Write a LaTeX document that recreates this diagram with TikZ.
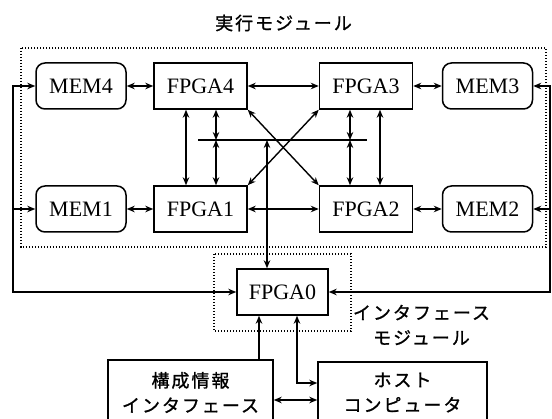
\documentclass[tikz,border=0pt]{standalone}
\usepackage{fontspec}
\setmainfont{Liberation Serif}
\newfontfamily\jp{Noto Sans CJK JP}[LetterSpace=11,FakeBold=1.2]
\usetikzlibrary{arrows.meta,calc}
\begin{document}
\begin{tikzpicture}[x=1pt,y=-1pt,
  box/.style={draw,line width=1.5pt,minimum width=93pt,minimum height=46pt,inner sep=0pt,font=\fontsize{22}{24}\selectfont},
  membox/.style={box,minimum width=90pt,rounded corners=9pt},
  conn/.style={line width=1.4pt},
  tip/.tip={Stealth[length=8pt,width=6.5pt]},
  bi/.style={conn,tip-tip},
  uni/.style={conn,-tip},
  dotbox/.style={line width=1.3pt,dash pattern=on 1.4pt off 1.6pt},
  jtext/.style={font=\jp\fontsize{18}{25}\selectfont,align=center,inner sep=0pt},
  jbox/.style={draw,line width=1.5pt,jtext}
]
\useasboundingbox (0,0) rectangle (552,419);
\clip (0,0) rectangle (552,419);

% dotted module frames
\draw[dotbox] (21,48) rectangle (546,247);
\draw[dotbox] (214,254) rectangle (351,331);

% titles
\node[jtext] (title) at (283.5,23) {実行モジュール};
\node[jtext] (ifl) at (421.5,325) {インタフェース\\モジュール};

% boxes
\node[membox] (mem4) at (81,86) {MEM4};
\node[box] (fpga4) at (200.5,86) {FPGA4};
\node[box] (fpga3) at (366,86) {FPGA3};
\node[membox] (mem3) at (487.5,86) {MEM3};
\node[membox] (mem1) at (81,209) {MEM1};
\node[box] (fpga1) at (200.5,209) {FPGA1};
\node[box] (fpga2) at (366,209) {FPGA2};
\node[membox] (mem2) at (487.5,209) {MEM2};
\node[box,minimum width=91pt] (fpga0) at (282.5,292) {FPGA0};
\node[jbox,minimum width=165pt,minimum height=65pt] (cfg) at (190.5,392.5) {構成情報\\インタフェース};
\node[jbox,minimum width=169pt,minimum height=61pt] (host) at (402.5,392.5) {ホスト\\コンピュータ};

% helper coordinates
\coordinate (v1) at (186,0);
\coordinate (v2) at (216,0);
\coordinate (v3) at (350,0);
\coordinate (v4) at (380,0);
\coordinate (vc) at (267,0);
\coordinate (busL) at (198,140);
\coordinate (busR) at (367,140);
\coordinate (L) at (13,0);
\coordinate (R) at (550,0);
\coordinate (b1) at (259,0);
\coordinate (b2) at (297,0);
\coordinate (hostturn) at (297,383);
\coordinate (hz) at (0,400);

% horizontal links
\draw[bi] (mem4) -- (fpga4);
\draw[bi] (fpga4) -- (fpga3);
\draw[bi] (fpga3) -- (mem3);
\draw[bi] (mem1) -- (fpga1);
\draw[bi] (fpga1) -- (fpga2);
\draw[bi] (fpga2) -- (mem2);

% bus
\draw[line width=1.8pt] (busL) -- (busR);

% vertical links
\draw[bi] (v1 |- fpga4.south) -- (v1 |- fpga1.north);
\draw[bi] (v2 |- fpga4.south) -- (v2 |- busL);
\draw[bi] (v2 |- busL) -- (v2 |- fpga1.north);
\draw[bi] (v3 |- fpga3.south) -- (v3 |- busL);
\draw[bi] (v3 |- busL) -- (v3 |- fpga2.north);
\draw[bi] (v4 |- fpga3.south) -- (v4 |- fpga2.north);
\draw[bi] (vc |- busL) -- (vc |- fpga0.north);

% diagonals
\draw[bi] (fpga4.south east) -- (fpga2.north west);
\draw[bi] (fpga3.south west) -- (fpga1.north east);

% outer loops to FPGA0
\draw[bi] (mem4.west) -- (L |- mem4.west) -- (L |- fpga0.west) -- (fpga0.west);
\draw[uni] (L |- mem1.west) -- (mem1.west);
\draw[bi] (mem3.east) -- (R |- mem3.east) -- (R |- fpga0.east) -- (fpga0.east);
\draw[uni] (R |- mem2.east) -- (mem2.east);

% interface module links
\draw[uni] (b1 |- cfg.north) -- (b1 |- fpga0.south);
\draw[bi] (b2 |- fpga0.south) -- (hostturn) -- (host.west |- hostturn);
\draw[bi] (cfg.east |- hz) -- (host.west |- hz);
\end{tikzpicture}
\end{document}
